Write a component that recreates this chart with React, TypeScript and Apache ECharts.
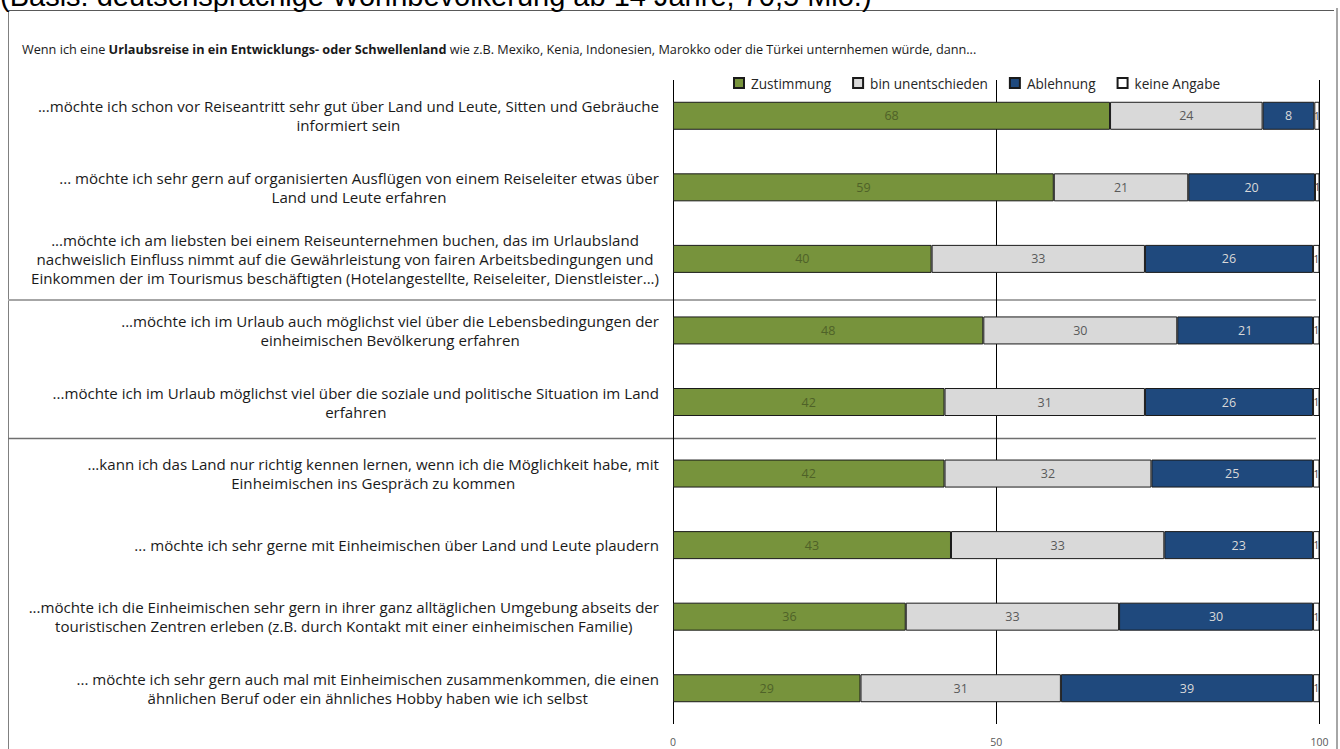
import React, { useEffect, useRef } from "react";
import * as echarts from "echarts";

const headerText = "(Basis: deutschsprachige Wohnbevölkerung ab 14 Jahre, 70,5 Mio.)";
const questionText =
  "Wenn ich eine {b|Urlaubsreise in ein Entwicklungs- oder Schwellenland} wie z.B. Mexiko, Kenia, Indonesien, Marokko oder die Türkei unternhemen würde, dann...";

const categories = [
  "...möchte ich schon vor Reiseantritt sehr gut über Land und Leute, Sitten und Gebräuche\ninformiert sein",
  "... möchte ich sehr gern auf organisierten Ausflügen von einem Reiseleiter etwas über\nLand und Leute erfahren",
  "...möchte ich am liebsten bei einem Reiseunternehmen buchen, das im Urlaubsland\nnachweislich Einfluss nimmt auf die Gewährleistung von fairen Arbeitsbedingungen und\nEinkommen der im Tourismus beschäftigten (Hotelangestellte, Reiseleiter, Dienstleister...)",
  "...möchte ich im Urlaub auch möglichst viel über die Lebensbedingungen der\neinheimischen Bevölkerung erfahren",
  "...möchte ich im Urlaub möglichst viel über die soziale und politische Situation im Land\nerfahren",
  "...kann ich das Land nur richtig kennen lernen, wenn ich die Möglichkeit habe, mit\nEinheimischen ins Gespräch zu kommen",
  "... möchte ich sehr gerne mit Einheimischen über Land und Leute plaudern",
  "...möchte ich die Einheimischen sehr gern in ihrer ganz alltäglichen Umgebung abseits der\ntouristischen Zentren erleben (z.B. durch Kontakt mit einer einheimischen Familie)",
  "... möchte ich sehr gern auch mal mit Einheimischen zusammenkommen, die einen\nähnlichen Beruf oder ein ähnliches Hobby haben wie ich selbst",
];

const seriesNames = ["Zustimmung", "bin unentschieden", "Ablehnung", "keine Angabe"];
const zustimmung = [67.6, 58.9, 40, 48, 42, 42, 43, 36, 29];
const unentschieden = [23.6, 20.8, 33, 30, 31, 32, 33, 33, 31];
const ablehnung = [8.0, 19.6, 26, 21, 26, 25, 23, 30, 39];
const keineAngabe = [0.8, 0.7, 1, 1, 1, 1, 1, 1, 1];

const xTicks = [0, 50, 100];

const FONT = "'Open Sans', 'Noto Sans', sans-serif";

export default function App() {
  const ref = useRef<HTMLDivElement>(null);

  useEffect(() => {
    if (!ref.current) return;
    const chart = echarts.init(ref.current, null, { renderer: "svg" });

    const colors = ["#77933C", "#D9D9D9", "#1F497D", "#FFFFFF"];
    const labelColors = ["#4F6228", "#595959", "#D9D9D9", "#404040"];
    const values = [zustimmung, unentschieden, ablehnung, keineAngabe];

    const series = seriesNames.map((name, i) => ({
      name,
      type: "bar",
      stack: "total",
      barWidth: 28,
      data: values[i],
      itemStyle: { color: colors[i], borderColor: "#1a1a1a", borderWidth: 1 },
      label: {
        show: true,
        position: "inside",
        formatter: (p: any) => String(Math.round(p.value)),
        color: labelColors[i],
        fontFamily: FONT,
        fontSize: i === 3 ? 10 : 12.5,
      },
    }));

    chart.setOption({
      animation: false,
      backgroundColor: "#ffffff",
      title: [
        {
          text: headerText,
          left: 0,
          top: -19,
          padding: 0,
          textStyle: {
            fontFamily: "'Liberation Sans', Arial, sans-serif",
            fontSize: 29,
            fontWeight: "normal",
            color: "#000",
          },
        },
        {
          text: questionText,
          left: 22,
          top: 42,
          padding: 0,
          textStyle: {
            fontFamily: FONT,
            fontSize: 12.7,
            fontWeight: "normal",
            color: "#1a1a1a",
            rich: {
              b: { fontFamily: FONT, fontSize: 12.7, fontWeight: "bold", color: "#1a1a1a" },
            },
          },
        },
      ],
      legend: {
        left: 733,
        top: 76,
        padding: 0,
        icon: "rect",
        itemWidth: 10,
        itemHeight: 10,
        itemGap: 21,
        data: seriesNames,
        textStyle: { fontFamily: FONT, fontSize: 13.6, color: "#262626", padding: [0, 0, 0, 2] },
      },
      grid: { left: 673, right: 20.5, top: 80, bottom: 25, containLabel: false },
      xAxis: {
        type: "value",
        min: xTicks[0],
        max: xTicks[xTicks.length - 1],
        interval: xTicks[1] - xTicks[0],
        axisLine: { show: false },
        axisTick: { show: false },
        splitLine: { show: true, lineStyle: { color: "#000", width: 1 } },
        axisLabel: { color: "#595959", fontSize: 10.5, fontFamily: FONT, margin: 12 },
      },
      yAxis: {
        type: "category",
        inverse: true,
        data: categories,
        axisLine: { show: false },
        axisTick: { show: false },
        axisLabel: {
          margin: 14,
          align: "right",
          formatter: (v: string) =>
            v
              .split("\n")
              .map((l) => `{c|${l}}`)
              .join("\n"),
          rich: {
            c: {
              align: "center",
              fontFamily: FONT,
              fontSize: 15.1,
              lineHeight: 19,
              color: "#1a1a1a",
            },
          },
        },
      },
      graphic: [
        { type: "line", shape: { x1: 8, y1: 10.5, x2: 1334, y2: 10.5 }, style: { stroke: "#595959", lineWidth: 1 } },
        { type: "line", shape: { x1: 8.5, y1: 10, x2: 8.5, y2: 749 }, style: { stroke: "#808080", lineWidth: 1 } },
        { type: "line", shape: { x1: 1337, y1: 8, x2: 1337, y2: 749 }, style: { stroke: "#a6a6a6", lineWidth: 2 } },
        { type: "line", shape: { x1: 8, y1: 300, x2: 1316, y2: 300 }, style: { stroke: "#a6a6a6", lineWidth: 2 } },
        { type: "line", shape: { x1: 8, y1: 438.5, x2: 1316, y2: 438.5 }, style: { stroke: "#6f6f6f", lineWidth: 1.5 } },
      ],
      series,
    });

    return () => chart.dispose();
  }, []);

  return (
    <div
      ref={ref}
      style={{ position: "fixed", left: 0, top: 0, width: 1340, height: 749, background: "#fff" }}
    />
  );
}
